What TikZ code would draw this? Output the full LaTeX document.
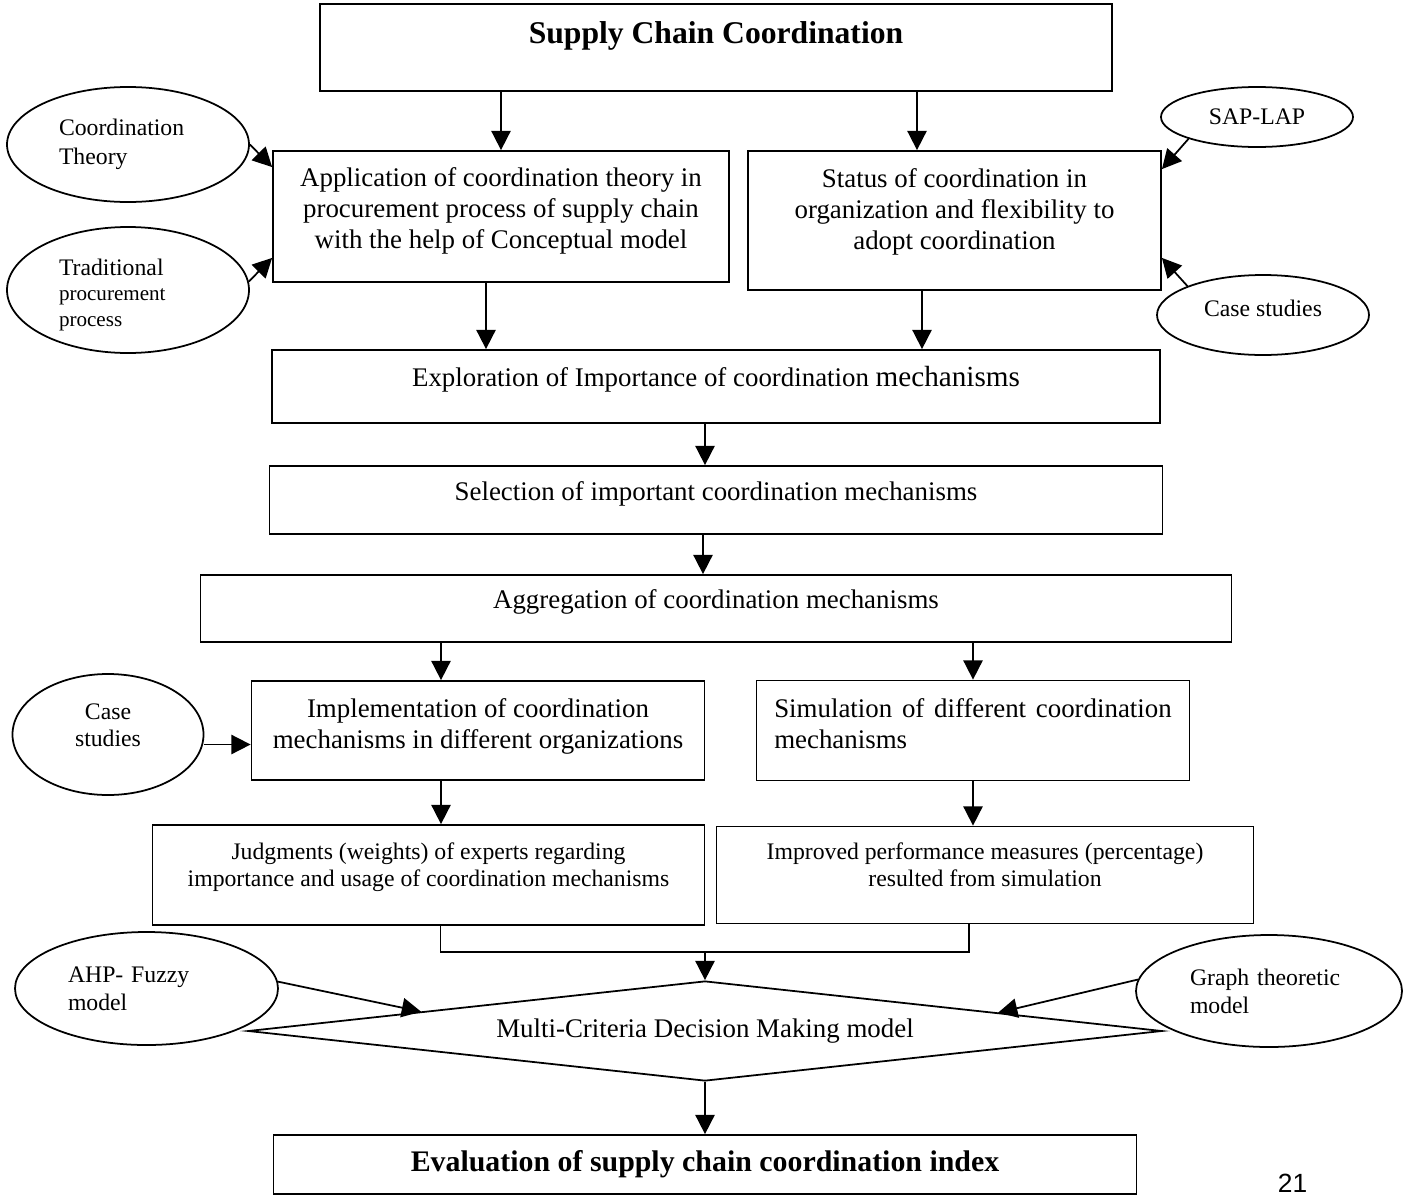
\documentclass[tikz,border=0pt]{standalone}
\usepackage{fontspec}
\setmainfont{Liberation Serif}
\newfontfamily\pagenumfont{Liberation Sans}
\usetikzlibrary{shapes, arrows.meta, positioning, calc}
\tikzstyle{block}=[draw, rectangle, line width=1pt, align=center, inner sep=0pt, font=\fontsize{15.3}{17.6}\selectfont]
\tikzstyle{smallblock}=[block, font=\fontsize{13.5}{15.4}\selectfont]
\tikzstyle{source}=[draw, ellipse, line width=1pt, inner sep=0pt, font=\fontsize{13.5}{16.5}\selectfont]
\tikzstyle{decision}=[draw, diamond, aspect=9, line width=1pt, inner sep=0pt, font=\fontsize{15.3}{17.6}\selectfont]

\begin{document}
\begin{tikzpicture}[>={Triangle[length=11pt,width=11pt]}, line width=1pt]
    \useasboundingbox (0,0) rectangle (28.26,-23.9);
    % main column
    \node[block, minimum width=15.84cm, minimum height=1.74cm, text height=10pt, text depth=15pt, font=\fontsize{18}{20}\selectfont\bfseries] (top) at (14.32,-0.95) {Supply Chain Coordination};
    \node[block, below of=top, node distance=3.38cm, xshift=-4.3cm, minimum width=9.12cm, minimum height=2.62cm, text depth=9.5pt] (app) {Application of coordination theory in\\ procurement process of supply chain\\ with the help of Conceptual model};
    \node[block, right of=app, node distance=9.07cm, yshift=-0.08cm, minimum width=8.26cm, minimum height=2.78cm, text depth=13.5pt] (status) {Status of coordination in\\ organization and flexibility to\\ adopt coordination};
    \node[block, below of=top, node distance=6.78cm, minimum width=17.76cm, minimum height=1.46cm, text height=10pt, text depth=10pt] (explore) {Exploration of Importance of coordination {\fontsize{16.6}{18}\selectfont mechanisms}};
    \node[block, below of=explore, node distance=2.27cm, minimum width=17.86cm, minimum height=1.36cm, text height=10pt, text depth=10pt] (select) {Selection of important coordination mechanisms};
    \node[block, below of=select, node distance=2.17cm, minimum width=20.62cm, minimum height=1.34cm, text height=10pt, text depth=10pt] (aggr) {Aggregation of coordination mechanisms};
    \node[block, below of=aggr, node distance=2.44cm, xshift=-4.76cm, minimum width=9.06cm, minimum height=1.98cm, text depth=8pt] (impl) {Implementation of coordination\\ mechanisms in different organizations};
    \node[block, right of=impl, node distance=9.9cm, minimum width=8.66cm, minimum height=2.0cm, text width=7.95cm, align=justify, text depth=26pt] (sim) {Simulation of different coordination mechanisms};
    \node[smallblock, below of=impl, node distance=2.89cm, xshift=-0.99cm, minimum width=11.04cm, minimum height=2.0cm, text depth=12pt] (judg) {Judgments (weights) of experts regarding\\ importance and usage of coordination mechanisms};
    \node[smallblock, right of=judg, node distance=11.13cm, minimum width=10.74cm, minimum height=1.94cm, text depth=12pt] (impr) {Improved performance measures (percentage)\\ resulted from simulation};
    \node[decision, below of=aggr, node distance=8.45cm, xshift=-0.22cm, minimum width=18.28cm, minimum height=2.0cm] (mcdm) {Multi-Criteria Decision Making model};
    \node[block, below of=mcdm, node distance=2.67cm, minimum width=17.26cm, minimum height=1.18cm, font=\fontsize{17}{19}\selectfont\bfseries] (final) {Evaluation of supply chain coordination index};
    % inputs
    \node[source, left of=app, node distance=7.46cm, yshift=1.44cm, minimum width=4.84cm, minimum height=2.3cm, text width=2.76cm, align=left] (theory) {Coordination\\ Theory};
    \node[source, below of=theory, node distance=2.91cm, minimum width=4.84cm, minimum height=2.52cm, text width=2.76cm, align=left, font=\fontsize{12}{14.5}\selectfont, text depth=26pt] (trad) {{\fontsize{13.5}{14.5}\selectfont Traditional}\\ procurement\\ process};
    \node[source, right of=status, node distance=6.05cm, yshift=2.07cm, minimum width=3.84cm, minimum height=1.2cm] (sap) {SAP-LAP};
    \node[source, below of=sap, node distance=3.96cm, xshift=0.12cm, minimum width=4.24cm, minimum height=1.6cm, text depth=8pt] (caseR) {Case studies};
    \node[source, left of=impl, node distance=7.4cm, yshift=-0.08cm, minimum width=3.82cm, minimum height=2.42cm, align=center, font=\fontsize{13.5}{15.4}\selectfont, text depth=11pt] (caseL) {Case\\ studies};
    \node[source, left of=mcdm, node distance=11.17cm, yshift=0.85cm, minimum width=5.26cm, minimum height=2.26cm, text width=3.14cm, align=left, font=\fontsize{13.5}{16}\selectfont] (ahp) {AHP- Fuzzy\\ model};
    \node[source, right of=mcdm, node distance=11.28cm, yshift=0.8cm, minimum width=5.32cm, minimum height=2.24cm, text width=3.16cm, align=left, font=\fontsize{13.5}{16}\selectfont] (graph) {Graph theoretic\\ model};
    \node[font=\pagenumfont\fontsize{15}{15}\selectfont, anchor=base] (page) at (25.85,-23.84) {21};
    % connectors
    \draw[->] (app.north |- top.south) -- (app.north);
    \draw[->] ([xshift=-0.75cm]status.north |- top.south) -- ([xshift=-0.75cm]status.north);
    \draw[->] (theory.east) -- ([yshift=-0.34cm]app.north west);
    \draw[->] (trad.4) -- ([yshift=0.5cm]app.south west);
    \draw[->] (sap.south west) -- ([yshift=-0.38cm]status.north east);
    \draw[->] (caseR.north west) -- ([yshift=0.66cm]status.south east);
    \draw[->] ([xshift=-0.3cm]app.south) -- ([xshift=-0.3cm]app.south |- explore.north);
    \draw[->] ([xshift=-0.65cm]status.south) -- ([xshift=-0.65cm]status.south |- explore.north);
    \draw[->] ([xshift=-0.22cm]explore.south) -- ([xshift=-0.22cm]explore.south |- select.north);
    \draw[->] ([xshift=-0.26cm]select.south) -- ([xshift=-0.26cm]select.south |- aggr.north);
    \draw[->] ([xshift=-0.74cm]impl.north |- aggr.south) -- ([xshift=-0.74cm]impl.north);
    \draw[->] (sim.north |- aggr.south) -- (sim.north);
    \draw[->] ([yshift=-0.2cm]caseL.east) -- ([yshift=-0.2cm]caseL.east -| impl.west);
    \draw[->] ([xshift=-0.74cm]impl.south) -- ([xshift=-0.74cm]impl.south |- judg.north);
    \draw[->] (sim.south) -- (sim.south |- impr.north);
    \coordinate (merge) at ([yshift=0.56cm]mcdm.north);
    \draw ([xshift=0.24cm]judg.south) -- ([xshift=0.24cm]judg.south |- merge) -| ([xshift=-0.32cm]impr.south);
    \draw[->] (merge) -- (mcdm.north);
    \draw[->] (ahp.3) -- ($(mcdm.west)!0.38!(mcdm.north)$);
    \draw[->] (graph.175) -- ($(mcdm.north)!0.64!(mcdm.east)$);
    \draw[->] (mcdm.south) -- (final.north);
\end{tikzpicture}
\end{document}
